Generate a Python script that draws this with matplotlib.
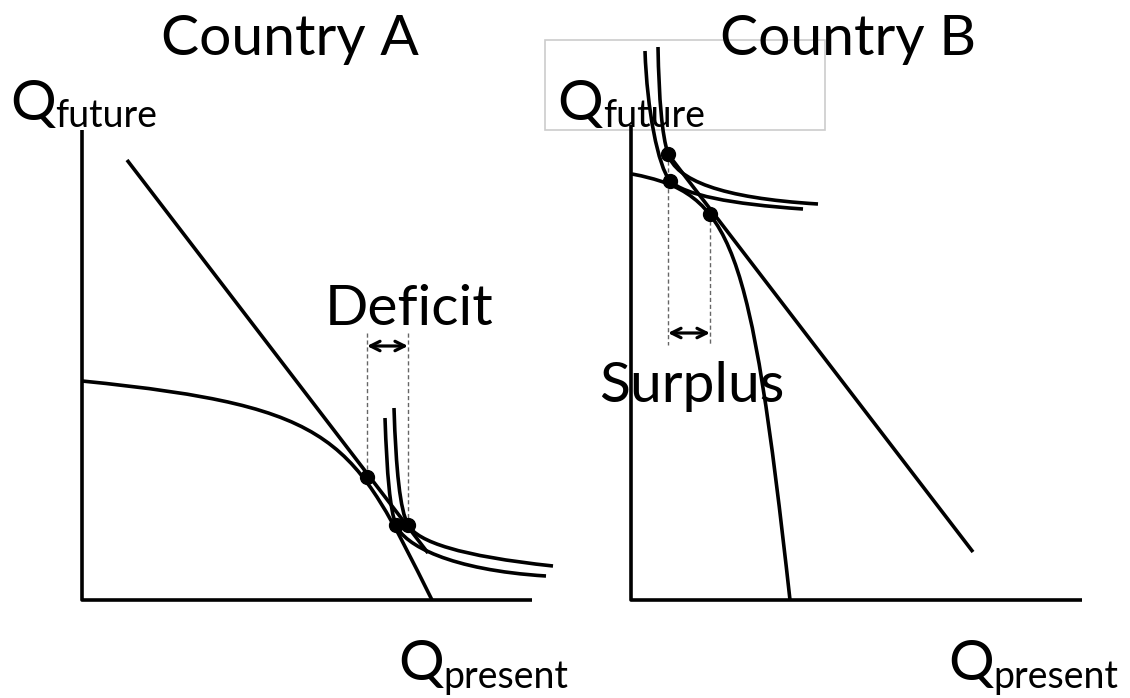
import matplotlib
matplotlib.use("Agg")
import matplotlib.pyplot as plt
from matplotlib.path import Path
from matplotlib.patches import PathPatch, Rectangle

plt.rcParams['font.family'] = ['Lato', 'DejaVu Sans']

# diagram coordinates in pixels (y grows downward)
titles = ["Country A", "Country B"]
title_x = [290, 848]

# Country A
axis_a = [(82, 130), (82, 600), (532, 600)]
ppf_a = [(82, 381), (342, 407), (352, 440), (432, 600)]
price_a = [(127, 160), (428, 553)]
ic_a_inner = [(385, 418), (387, 475), (390, 510), (396, 525),
              (404, 545), (450, 570), (546, 576)]
ic_a_outer = [(394, 408), (396, 470), (400, 510), (408, 525),
              (418, 542), (460, 556), (553, 566)]
dots_a = [(367, 477), (396, 525), (408, 525)]
guides_a = [(367, 333, 477), (408, 333, 525)]
arrow_a = (367, 408, 346)

# Country B
axis_b = [(631, 125), (631, 600), (1082, 600)]
ppf_b = [(632, 174), (732, 193), (750, 240), (790, 600)]
price_b = [(668, 154), (973, 552)]
ic_b_inner = [(645, 51), (647, 110), (658, 166), (670, 181),
              (685, 195), (730, 204), (803, 209)]
ic_b_outer = [(658, 47), (659, 100), (662, 135), (668, 154),
              (676, 180), (720, 198), (818, 204)]
dots_b = [(668, 154), (670, 181), (710, 214)]
guides_b = [(668, 154, 345), (710, 214, 345)]
arrow_b = (668, 710, 333)

fig = plt.figure(figsize=(11.3, 6.98), dpi=100)
ax = fig.add_axes([0, 0, 1, 1])
ax.set_xlim(0, 1130)
ax.set_ylim(698, 0)
ax.axis('off')

LW = 2.6


def bezier(pts):
    codes = [Path.MOVETO] + [Path.CURVE4] * (len(pts) - 1)
    ax.add_patch(PathPatch(Path(pts, codes), fill=False, lw=LW,
                           edgecolor='black', capstyle='butt'))


def polyline(pts):
    xs, ys = zip(*pts)
    ax.plot(xs, ys, color='black', lw=LW, solid_capstyle='butt')


# label box behind the right Q_future
ax.add_patch(Rectangle((545, 40), 280, 90, fill=False,
                       edgecolor='#cccccc', lw=1.2))

for axis, ppf, price, ics, dots, guides, arrow in [
        (axis_a, ppf_a, price_a, [ic_a_inner, ic_a_outer], dots_a, guides_a, arrow_a),
        (axis_b, ppf_b, price_b, [ic_b_inner, ic_b_outer], dots_b, guides_b, arrow_b)]:
    for gx, y0, y1 in guides:
        ax.plot([gx, gx], [y0, y1], color='#666666', lw=1.0,
                linestyle=(0, (3, 2)))
    polyline(axis)
    bezier(ppf)
    polyline(price)
    for ic in ics:
        bezier(ic)
    ax.plot([d[0] for d in dots], [d[1] for d in dots], 'o',
            color='black', markersize=10)
    ax.annotate('', xy=(arrow[1], arrow[2]), xytext=(arrow[0], arrow[2]),
                arrowprops=dict(arrowstyle='<->', lw=2.3, color='black',
                                mutation_scale=17, shrinkA=0, shrinkB=0))

BIG = 41
SUB = 27
for t, x in zip(titles, title_x):
    ax.text(x, 55, t, fontsize=BIG, ha='center', va='baseline')

ax.text(409, 325, "Deficit", fontsize=BIG, ha='center', va='baseline')
ax.text(692, 402, "Surplus", fontsize=BIG, ha='center', va='baseline')

# axis labels: Q with a subscript word
for qx, qy, sub, sx, sy in [(10, 120, "future", 55, 127),
                            (557, 120, "future", 603, 127),
                            (398, 680, "present", 443, 688),
                            (948, 680, "present", 993, 688)]:
    ax.text(qx, qy, "Q", fontsize=BIG, ha='left', va='baseline')
    ax.text(sx, sy, sub, fontsize=SUB, ha='left', va='baseline')

fig.savefig("out.png", dpi=100)
